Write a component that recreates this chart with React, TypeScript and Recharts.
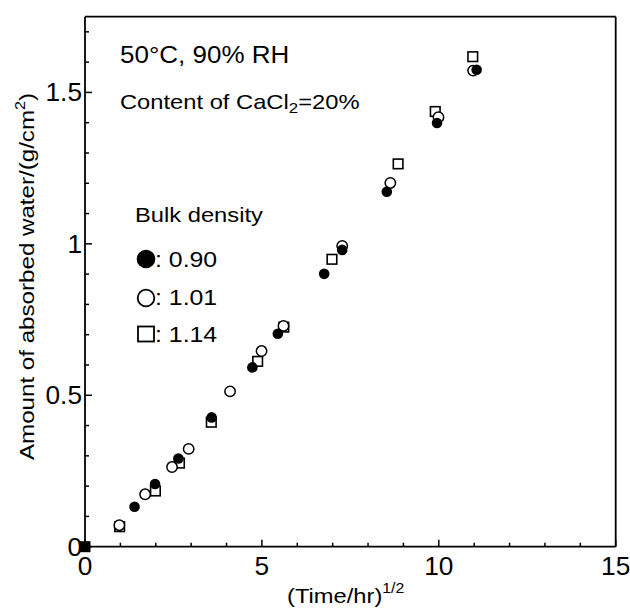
import React from 'react';
import { ScatterChart, Scatter, XAxis, YAxis, Customized } from 'recharts';

// (Time/hr)^1/2 and absorbed water (g/cm2)
const sqrtTime090 = [1.40, 1.98, 2.64, 3.58, 4.73, 5.45, 6.76, 7.27, 8.53, 9.95, 11.07];
const water090 = [0.132, 0.207, 0.291, 0.427, 0.592, 0.703, 0.901, 0.980, 1.172, 1.399, 1.575];

const sqrtTime101 = [0.97, 1.70, 2.46, 2.93, 4.10, 4.99, 5.61, 7.27, 8.63, 9.99, 10.97];
const water101 = [0.071, 0.173, 0.263, 0.323, 0.513, 0.646, 0.729, 0.993, 1.201, 1.418, 1.572];

const sqrtTime114 = [0.98, 1.99, 2.67, 3.57, 4.88, 5.62, 6.98, 8.85, 9.90, 10.96];
const water114 = [0.066, 0.184, 0.276, 0.411, 0.612, 0.725, 0.949, 1.264, 1.437, 1.618];

const originX = [0];
const originY = [0];

const xTicks = [0, 1, 2, 3, 4, 5, 6, 7, 8, 9, 10, 11, 12, 13, 14, 15];
const xLabels = [0, 5, 10, 15];
const yTicks = [0, 0.1, 0.2, 0.3, 0.4, 0.5, 0.6, 0.7, 0.8, 0.9, 1, 1.1, 1.2, 1.3, 1.4, 1.5, 1.6, 1.7];
const yLabels = [0, 0.5, 1, 1.5];

const toPoints = (xs: number[], ys: number[]) => xs.map((x, i) => ({ x, y: ys[i] }));

const FONT = '"Liberation Sans", Arial, Helvetica, sans-serif';
const INK = '#000';

// text drawn a bit wider than Arial, like the original figure
const Txt = ({ x, y, size, anchor = 'start', sx = 1.13, rotate = 0, children }: any) => (
  <g transform={`translate(${x},${y}) rotate(${rotate}) scale(${sx},1)`}>
    <text x={0} y={0} fontSize={size} textAnchor={anchor} fontFamily={FONT} fill={INK}>
      {children}
    </text>
  </g>
);

const isIn = (arr: number[], v: number) => arr.some((a) => Math.abs(a - v) < 1e-6);

const BottomTick = ({ x, y, payload }: any) => {
  const major = isIn(xLabels, payload.value);
  return (
    <g>
      <line x1={x} x2={x} y1={y} y2={y - (major ? 7 : 4)} stroke={INK} strokeWidth={1.5} />
      {major && <Txt x={x} y={y + 28} size={25} anchor="middle" sx={1.05}>{String(payload.value)}</Txt>}
    </g>
  );
};

const TopTick = ({ x, y, payload }: any) => {
  const major = isIn(xLabels, payload.value);
  return <line x1={x} x2={x} y1={y} y2={y + (major ? 7 : 4)} stroke={INK} strokeWidth={1.5} />;
};

const LeftTick = ({ x, y, payload }: any) => {
  const major = isIn(yLabels, payload.value);
  return (
    <g>
      <line x1={x} x2={x + (major ? 7 : 4)} y1={y} y2={y} stroke={INK} strokeWidth={1.5} />
      {major && <Txt x={x - 3} y={y + 9} size={25} anchor="end" sx={1.05}>{String(payload.value)}</Txt>}
    </g>
  );
};

const RightTick = ({ x, y, payload }: any) => {
  const major = isIn(yLabels, payload.value);
  return <line x1={x} x2={x - (major ? 7 : 4)} y1={y} y2={y} stroke={INK} strokeWidth={1.5} />;
};

const FilledDot = ({ cx, cy }: any) => <circle cx={cx} cy={cy} r={5.3} fill={INK} />;
const OpenDot = ({ cx, cy }: any) => <circle cx={cx} cy={cy} r={5.2} fill="#fff" stroke={INK} strokeWidth={1.5} />;
const OpenSquare = ({ cx, cy }: any) => (
  <rect x={cx - 4.8} y={cy - 4.8} width={9.6} height={9.6} fill="#fff" stroke={INK} strokeWidth={1.6} />
);
const FilledSquare = ({ cx, cy }: any) => <rect x={cx - 5.5} y={cy - 5.5} width={11} height={11} fill={INK} />;

const Annotations = () => (
  <g>
    <Txt x={120} y={63} size={23}>50°C, 90% RH</Txt>
    <Txt x={120} y={109} size={21}>
      Content of CaCl<tspan fontSize={15} dy={4}>2</tspan><tspan dy={-4}>=20%</tspan>
    </Txt>
    <Txt x={135} y={222} size={21}>Bulk density</Txt>

    <circle cx={146} cy={259} r={9.3} fill={INK} />
    <Txt x={155} y={266.5} size={22}>: 0.90</Txt>
    <circle cx={146} cy={298} r={8.3} fill="none" stroke={INK} strokeWidth={1.8} />
    <Txt x={155} y={305} size={22}>: 1.01</Txt>
    <rect x={138} y={326.5} width={16} height={15} fill="none" stroke={INK} strokeWidth={1.8} />
    <Txt x={155} y={341.5} size={22}>: 1.14</Txt>

    <Txt x={33.5} y={460} size={21} rotate={-90} sx={1.15}>
      Amount of absorbed water/(g/cm<tspan fontSize={14} dy={-9}>2</tspan><tspan dy={9}>)</tspan>
    </Txt>
    <Txt x={287} y={603} size={21}>
      (Time/hr)<tspan fontSize={14} dy={-10}>1/2</tspan>
    </Txt>
  </g>
);

const App: React.FC = () => {
  const axisLine = { stroke: INK, strokeWidth: 1.8 };
  return (
    <div style={{ position: 'absolute', left: 0, top: 0, background: '#fff' }}>
      <ScatterChart width={630} height={610} margin={{ top: 15.7, right: 13.3, bottom: 62.3, left: 84 }}>
        <XAxis xAxisId="b" type="number" dataKey="x" domain={[0, 15]} ticks={xTicks} interval={0}
          height={1} tickSize={0} tickMargin={0} tickLine={false} axisLine={axisLine}
          tick={(p: any) => <BottomTick {...p} />} />
        <XAxis xAxisId="t" orientation="top" type="number" domain={[0, 15]} ticks={xTicks} interval={0}
          height={1} tickSize={0} tickMargin={0} tickLine={false} axisLine={axisLine}
          tick={(p: any) => <TopTick {...p} />} />
        <YAxis yAxisId="l" type="number" dataKey="y" domain={[0, 1.75]} ticks={yTicks} interval={0}
          width={1} tickSize={0} tickMargin={0} tickLine={false} axisLine={axisLine}
          tick={(p: any) => <LeftTick {...p} />} />
        <YAxis yAxisId="r" orientation="right" type="number" domain={[0, 1.75]} ticks={yTicks} interval={0}
          width={1} tickSize={0} tickMargin={0} tickLine={false} axisLine={axisLine}
          tick={(p: any) => <RightTick {...p} />} />

        <Scatter xAxisId="b" yAxisId="l" data={toPoints(sqrtTime114, water114)} shape={OpenSquare} isAnimationActive={false} />
        <Scatter xAxisId="b" yAxisId="l" data={toPoints(sqrtTime101, water101)} shape={OpenDot} isAnimationActive={false} />
        <Scatter xAxisId="b" yAxisId="l" data={toPoints(sqrtTime090, water090)} shape={FilledDot} isAnimationActive={false} />
        <Scatter xAxisId="b" yAxisId="l" data={toPoints(originX, originY)} shape={FilledSquare} isAnimationActive={false} />

        <Customized component={Annotations} />
      </ScatterChart>
    </div>
  );
};

export default App;
